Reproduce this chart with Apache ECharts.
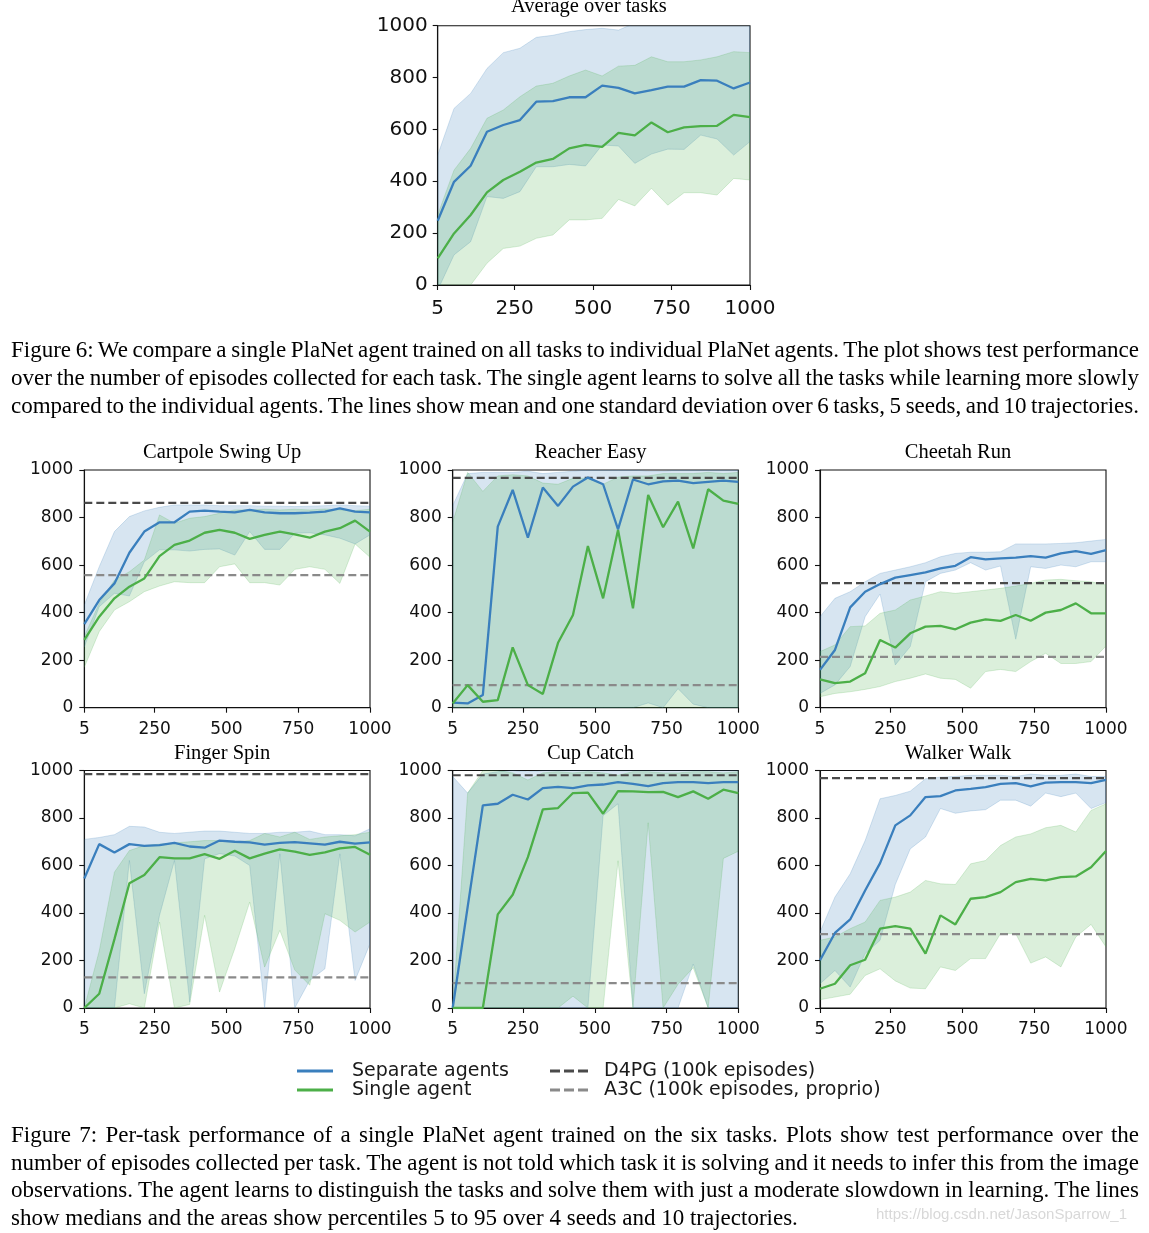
<!DOCTYPE html>
<html><head><meta charset="utf-8">
<script src="https://cdn.jsdelivr.net/npm/echarts@6/dist/echarts.min.js"></script>
<style>
html,body{margin:0;padding:0;background:#fff;}
#wrap{position:relative;width:1149px;height:1233px;overflow:hidden;background:#fff;}
#chart{position:absolute;left:0;top:0;width:1149px;height:1233px;}
.cap{position:absolute;left:11px;width:1128px;font-family:'Liberation Serif','Times New Roman',serif;font-size:23px;line-height:28px;height:28px;color:#000;white-space:normal;word-spacing:-1.5px;text-align:justify;text-align-last:justify;}
.cap.last{text-align:left;text-align-last:left;word-spacing:0;}
</style></head>
<body>
<div id="wrap">
<div id="chart"></div>
<div class="cap" style="top:336px">Figure 6: We compare a single PlaNet agent trained on all tasks to individual PlaNet agents. The plot shows test performance</div>
<div class="cap" style="top:364px">over the number of episodes collected for each task. The single agent learns to solve all the tasks while learning more slowly</div>
<div class="cap" style="top:392px">compared to the individual agents. The lines show mean and one standard deviation over 6 tasks, 5 seeds, and 10 trajectories.</div>
<div class="cap" style="top:1121px">Figure 7: Per-task performance of a single PlaNet agent trained on the six tasks. Plots show test performance over the</div>
<div class="cap" style="top:1149px">number of episodes collected per task. The agent is not told which task it is solving and it needs to infer this from the image</div>
<div class="cap" style="top:1176px">observations. The agent learns to distinguish the tasks and solve them with just a moderate slowdown in learning. The lines</div>
<div class="cap last" style="top:1204px">show medians and the areas show percentiles 5 to 95 over 4 seeds and 10 trajectories.</div>
</div>
<script>
// ---------- data ----------
const xs = [5, 57, 110, 162, 214, 267, 319, 372, 424, 476, 529, 581, 633, 686, 738, 790, 843, 895, 948, 1000];
const xTickValues = [5, 250, 500, 750, 1000];

// Average over tasks (mean, +/- std)
const avgSepMean = [248, 398, 460, 591, 617, 636, 707, 709, 724, 724, 769, 760, 739, 752, 765, 765, 790, 788, 758, 781];
const avgSepLo   = [-20, 116, 167, 341, 334, 360, 456, 456, 465, 459, 540, 536, 469, 505, 524, 523, 578, 563, 501, 553];
const avgSepHi   = [501, 681, 739, 835, 896, 913, 955, 963, 977, 985, 990, 983, 1010, 1015, 1020, 1020, 1020, 1020, 1020, 1020];
const avgSingleMean = [103, 199, 270, 357, 405, 437, 472, 486, 527, 540, 533, 587, 577, 627, 589, 608, 613, 614, 656, 647];
const avgSingleLo   = [-150, -60, 0, 84, 141, 150, 180, 193, 251, 251, 257, 330, 305, 373, 308, 356, 356, 347, 411, 405];
const avgSingleHi   = [270, 443, 527, 643, 675, 726, 767, 778, 806, 829, 806, 844, 847, 880, 861, 861, 868, 880, 900, 896];

// Cartpole Swing Up
const cpSepMean = [352, 453, 523, 652, 741, 780, 780, 825, 829, 825, 822, 832, 822, 818, 818, 821, 825, 839, 825, 822];
const cpSepLo   = [255, 425, 481, 470, 614, 664, 664, 659, 666, 668, 642, 741, 666, 666, 734, 736, 727, 713, 689, 727];
const cpSepHi   = [432, 593, 741, 804, 828, 843, 853, 853, 853, 850, 850, 850, 848, 848, 846, 848, 850, 853, 850, 848];
const cpSingleMean = [285, 383, 460, 509, 544, 638, 685, 703, 736, 748, 736, 710, 727, 741, 729, 715, 741, 755, 787, 741];
const cpSingleLo   = [170, 320, 411, 446, 488, 512, 530, 526, 526, 593, 605, 526, 526, 516, 582, 593, 582, 523, 689, 633];
const cpSingleHi   = [300, 439, 537, 572, 621, 811, 776, 797, 804, 818, 832, 832, 835, 832, 835, 832, 836, 832, 829, 835];

// Reacher Easy
const reSepMean = [21, 18, 53, 762, 916, 715, 926, 849, 930, 968, 940, 750, 960, 940, 952, 955, 945, 950, 955, 950];
const reSepLo   = [0, 0, 0, 0, 0, 0, 0, 0, 0, 0, 0, 0, 0, 20, 0, 80, 15, 0, 0, 0];
const reSepHi   = [850, 985, 990, 990, 990, 995, 985, 990, 995, 1000, 1000, 1000, 1000, 995, 995, 1000, 1000, 1000, 1000, 1000];
const reSingleMean = [18, 95, 25, 32, 254, 95, 58, 273, 390, 680, 460, 748, 418, 895, 759, 867, 670, 919, 871, 857];
const reSingleLo   = [0, 0, 0, 0, 0, 0, 0, 0, 0, 0, 0, 0, 0, 0, 0, 0, 0, 0, 0, 0];
const reSingleHi   = [780, 990, 910, 975, 980, 975, 945, 940, 965, 965, 940, 970, 975, 975, 985, 985, 985, 990, 985, 990];

// Cheetah Run
const chSepMean = [159, 243, 422, 488, 520, 547, 558, 569, 586, 597, 633, 624, 628, 631, 638, 631, 649, 659, 647, 663];
const chSepLo   = [60, 96, 173, 383, 478, 180, 257, 530, 565, 579, 610, 579, 596, 288, 593, 586, 600, 593, 614, 614];
const chSepHi   = [383, 460, 488, 530, 565, 579, 593, 610, 635, 649, 654, 654, 656, 689, 689, 689, 691, 694, 701, 708];
const chSingleMean = [119, 103, 110, 145, 285, 253, 313, 341, 344, 330, 358, 372, 365, 390, 366, 400, 411, 439, 397, 397];
const chSingleLo   = [46, 60, 67, 77, 89, 110, 124, 142, 124, 119, 82, 152, 161, 152, 194, 229, 186, 186, 194, 260];
const chSingleHi   = [236, 264, 341, 344, 397, 411, 453, 470, 488, 481, 488, 495, 502, 512, 523, 537, 540, 534, 530, 516];

// Finger Spin
const fsSepMean = [545, 690, 655, 690, 683, 686, 695, 680, 675, 705, 700, 697, 688, 695, 698, 693, 688, 700, 692, 697];
const fsSepLo   = [0, 0, 0, 621, 60, 390, 621, 25, 628, 650, 640, 600, 0, 649, 0, 116, 165, 649, 116, 271];
const fsSepHi   = [710, 718, 730, 765, 762, 740, 735, 740, 745, 745, 740, 735, 735, 740, 740, 745, 730, 730, 725, 755];
const fsSingleMean = [0, 60, 290, 525, 560, 635, 630, 630, 648, 628, 662, 630, 650, 668, 658, 645, 655, 672, 678, 645];
const fsSingleLo   = [0, 0, 0, 18, 0, 362, 0, 15, 390, 67, 250, 446, 172, 327, 160, 96, 397, 369, 320, 362];
const fsSingleHi   = [0, 240, 572, 663, 684, 690, 695, 700, 705, 705, 700, 705, 735, 720, 740, 710, 720, 725, 730, 740];

// Cup Catch
const cuSepMean = [0, 425, 853, 860, 898, 878, 926, 931, 926, 937, 941, 951, 944, 934, 947, 951, 951, 947, 951, 951];
const cuSepLo   = [0, 0, 0, 0, 0, 0, 0, 0, 0, 0, 810, 860, 0, 0, 0, 0, 185, 0, 0, 0];
const cuSepHi   = [975, 905, 985, 995, 1000, 995, 1000, 1000, 1000, 1000, 1000, 1000, 1000, 1000, 1000, 1000, 1000, 1000, 1000, 1000];
const cuSingleMean = [0, 0, 0, 394, 477, 635, 836, 842, 905, 907, 818, 913, 912, 909, 910, 888, 912, 881, 919, 905];
const cuSingleLo   = [0, 0, 0, 0, 0, 0, 0, 0, 50, 0, 0, 620, 0, 780, 0, 100, 170, 0, 630, 660];
const cuSingleHi   = [0, 905, 1000, 1000, 990, 960, 990, 995, 990, 995, 990, 980, 995, 995, 990, 990, 995, 995, 990, 995];

// Walker Walk
const wwSepMean = [201, 316, 373, 495, 610, 769, 811, 888, 892, 916, 923, 930, 944, 947, 933, 949, 951, 951, 947, 961];
const wwSepLo   = [102, 158, 88, 229, 285, 520, 670, 720, 840, 820, 830, 835, 875, 875, 850, 905, 890, 905, 840, 865];
const wwSepHi   = [320, 467, 565, 705, 881, 895, 913, 965, 972, 975, 980, 980, 980, 975, 985, 980, 980, 985, 975, 975];
const wwSingleMean = [81, 102, 180, 203, 334, 345, 334, 229, 390, 352, 460, 467, 488, 530, 544, 537, 551, 554, 593, 661];
const wwSingleLo   = [35, 46, 58, 137, 165, 114, 84, 81, 173, 158, 208, 208, 313, 313, 189, 215, 173, 299, 352, 257];
const wwSingleHi   = [285, 299, 334, 362, 453, 467, 488, 537, 523, 520, 607, 621, 684, 720, 733, 759, 769, 741, 832, 860];

const panelTitles = ['Average over tasks', 'Cartpole Swing Up', 'Reacher Easy', 'Cheetah Run', 'Finger Spin', 'Cup Catch', 'Walker Walk'];
const d4pgScores = [null, 862, 967, 524, 985, 980, 968];
const a3cScores  = [null, 558, 95, 214, 129, 105, 311];
const seriesNames = ['Separate agents', 'Single agent', 'D4PG (100k episodes)', 'A3C (100k episodes, proprio)'];

// ---------- styling / layout ----------
const BLUE = '#3a7fbd', GREEN = '#4caf48';
const BLUE_FILL = 'rgba(55,126,184,0.2)', GREEN_FILL = 'rgba(77,175,74,0.2)';
const D4PG_COLOR = '#4a4a4a', A3C_COLOR = '#8a8a8a';

const panels = [
  {sep: [avgSepMean, avgSepLo, avgSepHi], sin: [avgSingleMean, avgSingleLo, avgSingleHi]},
  {sep: [cpSepMean, cpSepLo, cpSepHi], sin: [cpSingleMean, cpSingleLo, cpSingleHi]},
  {sep: [reSepMean, reSepLo, reSepHi], sin: [reSingleMean, reSingleLo, reSingleHi]},
  {sep: [chSepMean, chSepLo, chSepHi], sin: [chSingleMean, chSingleLo, chSingleHi]},
  {sep: [fsSepMean, fsSepLo, fsSepHi], sin: [fsSingleMean, fsSingleLo, fsSingleHi]},
  {sep: [cuSepMean, cuSepLo, cuSepHi], sin: [cuSingleMean, cuSingleLo, cuSingleHi]},
  {sep: [wwSepMean, wwSepLo, wwSepHi], sin: [wwSingleMean, wwSingleLo, wwSingleHi]}
];

const gridRects = [
  {left: 437.7, top: 25.7, width: 312.3, height: 259.3},
  {left: 84.3, top: 470, width: 285.7, height: 237.7},
  {left: 452.7, top: 470, width: 285.6, height: 237.7},
  {left: 820, top: 470, width: 286, height: 237.7},
  {left: 84.3, top: 770.5, width: 285.7, height: 237.5},
  {left: 452.7, top: 770.5, width: 285.6, height: 237.5},
  {left: 820, top: 770.5, width: 286, height: 237.5}
];

const grids = [], xAxes = [], yAxes = [], series = [], graphics = [];
const plainNum = v => String(Math.round(v));

function bandSeries(gi, lo, hi, fill) {
  return {
    type: 'custom', xAxisIndex: gi, yAxisIndex: gi, silent: true, z: 1,
    data: xs.map((x, i) => [x, lo[i], hi[i]]),
    encode: {x: 0, y: [1, 2]},
    renderItem: function (params, api) {
      if (params.dataIndexInside !== 0) return null;
      const n = params.dataInsideLength;
      const top = [], bot = [];
      for (let i = 0; i < n; i++) {
        top.push(api.coord([api.value(0, i), api.value(2, i)]));
        bot.push(api.coord([api.value(0, i), api.value(1, i)]));
      }
      const cs = params.coordSys;
      return {
        type: 'polygon',
        shape: {points: top.concat(bot.reverse())},
        style: {fill: fill, stroke: fill, lineWidth: 1},
        clipPath: {type: 'rect', shape: {x: cs.x, y: cs.y, width: cs.width, height: cs.height}}
      };
    }
  };
}

panels.forEach((p, gi) => {
  const isTop = gi === 0;
  const fs = isTop ? 20 : 17;
  grids.push(Object.assign({show: true, borderColor: '#111', borderWidth: 1.1, backgroundColor: 'transparent'}, gridRects[gi]));
  xAxes.push({
    type: 'value', gridIndex: gi, min: 5, max: 1000,
    axisLine: {show: true, onZero: false, lineStyle: {color: '#111', width: 1.1}},
    axisTick: {show: true, inside: false, length: 5, customValues: xTickValues, lineStyle: {color: '#111', width: 1.1}},
    axisLabel: {customValues: xTickValues, formatter: plainNum, fontFamily: 'DejaVu Sans', fontSize: fs, color: '#111', margin: isTop ? 14 : 13},
    splitLine: {show: false}
  });
  yAxes.push({
    type: 'value', gridIndex: gi, min: 0, max: 1000, interval: 200,
    axisLine: {show: true, onZero: false, lineStyle: {color: '#111', width: 1.1}},
    axisTick: {show: true, inside: false, length: 5, lineStyle: {color: '#111', width: 1.1}},
    axisLabel: {formatter: plainNum, fontFamily: 'DejaVu Sans', fontSize: fs, color: '#111', margin: isTop ? 10 : 11},
    splitLine: {show: false}
  });
  series.push(bandSeries(gi, p.sep[1], p.sep[2], BLUE_FILL));
  series.push(bandSeries(gi, p.sin[1], p.sin[2], GREEN_FILL));
  if (d4pgScores[gi] !== null) {
    series.push({
      name: seriesNames[2], type: 'line', xAxisIndex: gi, yAxisIndex: gi, symbol: 'none', silent: true, z: 2,
      data: [[xs[0], d4pgScores[gi]], [xs[xs.length - 1], d4pgScores[gi]]],
      lineStyle: {color: D4PG_COLOR, width: 2.2, type: [8, 4]}, itemStyle: {color: D4PG_COLOR}
    });
    series.push({
      name: seriesNames[3], type: 'line', xAxisIndex: gi, yAxisIndex: gi, symbol: 'none', silent: true, z: 2,
      data: [[xs[0], a3cScores[gi]], [xs[xs.length - 1], a3cScores[gi]]],
      lineStyle: {color: A3C_COLOR, width: 2.2, type: [8, 4]}, itemStyle: {color: A3C_COLOR}
    });
  }
  series.push({
    name: seriesNames[0], type: 'line', xAxisIndex: gi, yAxisIndex: gi, symbol: 'none', silent: true, z: 3,
    data: xs.map((x, i) => [x, p.sep[0][i]]),
    lineStyle: {color: BLUE, width: 2.3}, itemStyle: {color: BLUE}
  });
  series.push({
    name: seriesNames[1], type: 'line', xAxisIndex: gi, yAxisIndex: gi, symbol: 'none', silent: true, z: 3,
    data: xs.map((x, i) => [x, p.sin[0][i]]),
    lineStyle: {color: GREEN, width: 2.3}, itemStyle: {color: GREEN}
  });
  const r = gridRects[gi];
  graphics.push({
    type: 'text', x: r.left + r.width / 2 - 5, y: isTop ? 7 : r.top - 17, silent: true,
    style: {text: panelTitles[gi], fontFamily: 'Liberation Serif', fontSize: 20.5, fill: '#000', align: 'center', verticalAlign: 'middle'}
  });
});

graphics.push({
  type: 'text', x: 876, y: 1215, silent: true,
  style: {text: 'https://blog.csdn.net/JasonSparrow_1', fontFamily: 'Liberation Sans', fontSize: 15, fill: '#d8d8d8', align: 'left', verticalAlign: 'middle'}
});

const dashIcon = 'path://M0,0h10v3h-10zM14,0h10v3h-10zM28,0h10v3h-10z';
const legendText = {fontFamily: 'DejaVu Sans', fontSize: 19, color: '#1a1a1a', lineHeight: 19};

const option = {
  animation: false,
  backgroundColor: 'transparent',
  grid: grids, xAxis: xAxes, yAxis: yAxes, series: series,
  graphic: {elements: graphics},
  legend: [
    {data: [{name: seriesNames[0], icon: 'rect'}, {name: seriesNames[1], icon: 'rect'}],
     orient: 'vertical', left: 297, top: 1061.5, padding: 0, itemWidth: 36, itemHeight: 3, itemGap: 0, selectedMode: false,
     textStyle: Object.assign({padding: [0, 0, 0, 14]}, legendText)},
    {data: [{name: seriesNames[2], icon: dashIcon}, {name: seriesNames[3], icon: dashIcon}],
     orient: 'vertical', left: 550, top: 1061.5, padding: 0, itemWidth: 38, itemHeight: 3, itemGap: 0, selectedMode: false,
     textStyle: Object.assign({padding: [0, 0, 0, 11]}, legendText)}
  ]
};

const chart = echarts.init(document.getElementById('chart'), null, {renderer: 'canvas'});
chart.setOption(option);
</script>
</body></html>
